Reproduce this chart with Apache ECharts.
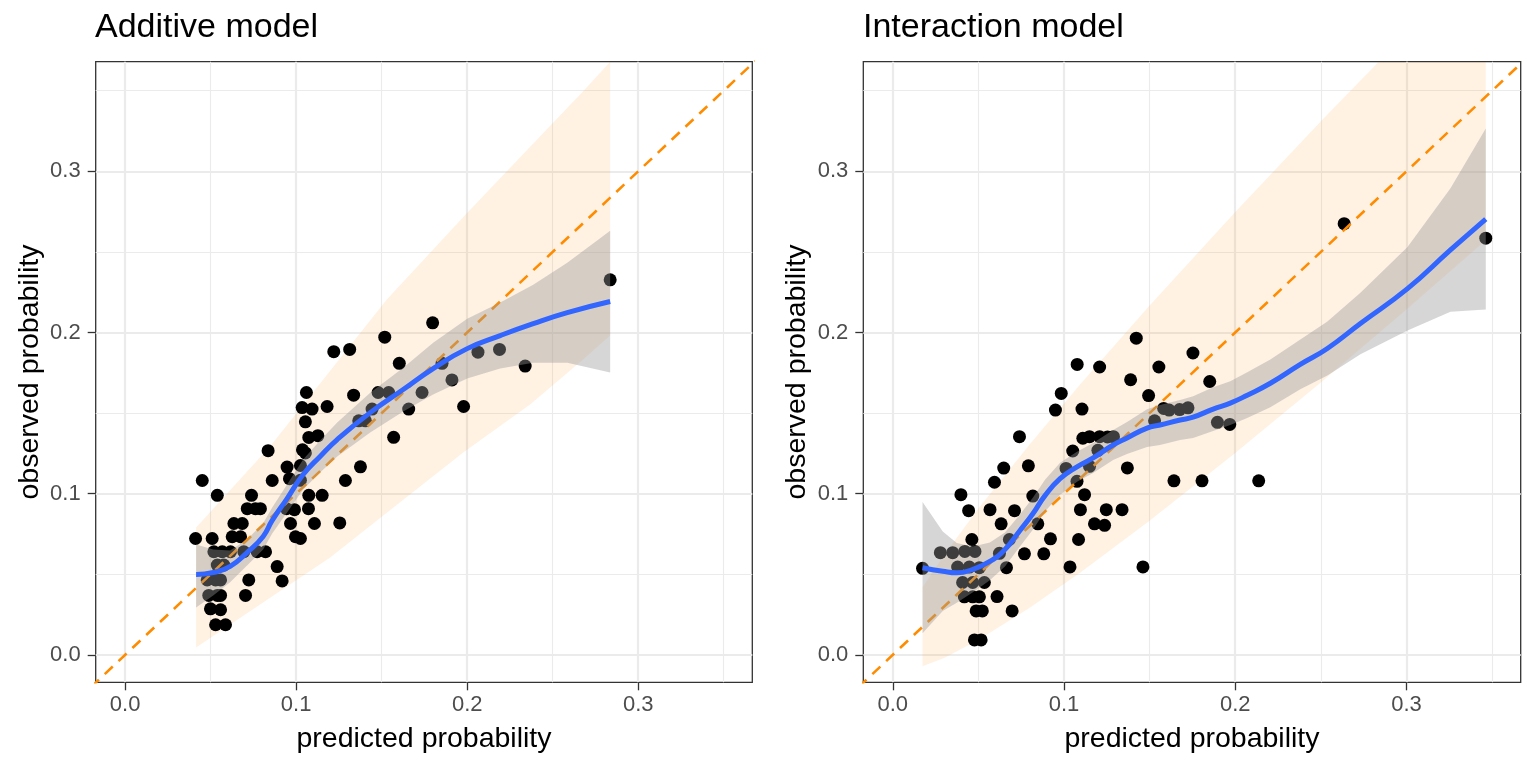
<!DOCTYPE html>
<html>
<head>
<meta charset="utf-8">
<title>Calibration plots</title>
<script src="https://cdn.jsdelivr.net/npm/echarts@6.0.0/dist/echarts.min.js"></script>
<style>
  html, body { margin: 0; padding: 0; background: #fff; }
  #main { width: 1536px; height: 768px; }
</style>
</head>
<body>
<div id="main"></div>
<script>
// axis settings (shared by both panels)
var xMin = -0.0172, xMax = 0.3667;
var yMin = -0.017, yMax = 0.368;
var majorTicks = [0, 0.1, 0.2, 0.3];
var minorTicks = [0.05, 0.15, 0.25, 0.35];
var diagEnds = [-0.02, 0.37];

// Additive model: points
var addPred = [0.0412,0.0509,0.0636,0.0685,0.0967,0.0626,0.0675,0.0996,0.1025,0.0519,0.0568,0.0616,0.0694,0.0772,0.0821,0.0539,0.0577,0.0889,0.0480,0.0529,0.0558,0.0723,0.0918,0.0489,0.0539,0.0558,0.0704,0.0499,0.0558,0.0529,0.0587,0.0451,0.0539,0.0739,0.0714,0.0762,0.0791,0.1107,0.1255,0.0836,0.0860,0.0961,0.1025,0.1288,0.1074,0.1152,0.0943,0.0990,0.1072,0.0947,0.1025,0.1376,0.1037,0.1054,0.1074,0.1127,0.1054,0.1035,0.1093,0.1181,0.1570,0.1060,0.1336,0.1479,0.1541,0.1736,0.1658,0.1979,0.1444,0.1366,0.1405,0.1603,0.1853,0.1911,0.1220,0.1313,0.1518,0.1798,0.2063,0.2189,0.2339,0.2836];
var addObs  = [0.0722,0.0722,0.0815,0.0815,0.0815,0.0733,0.0733,0.0733,0.0722,0.0640,0.0640,0.0640,0.0640,0.0640,0.0640,0.0557,0.0557,0.0548,0.0465,0.0465,0.0465,0.0465,0.0459,0.0369,0.0369,0.0369,0.0369,0.0286,0.0280,0.0187,0.0187,0.1082,0.0990,0.0990,0.0907,0.0907,0.0907,0.0815,0.0819,0.1267,0.1082,0.1093,0.1083,0.1082,0.0990,0.0990,0.0907,0.0901,0.0907,0.1165,0.1175,0.1167,0.1272,0.1253,0.1349,0.1360,0.1446,0.1534,0.1525,0.1541,0.1350,0.1628,0.1611,0.1628,0.1628,0.1628,0.1525,0.1541,0.1525,0.1452,0.1452,0.1809,0.1809,0.1706,0.1881,0.1895,0.1971,0.2060,0.1878,0.1895,0.1792,0.2327];

// Additive model: loess fit and its confidence band
var addFitX  = [0.0415,0.0515,0.0614,0.0713,0.0807,0.0860,0.0947,0.1041,0.1140,0.1240,0.1433,0.1626,0.1801,0.2000,0.2193,0.2386,0.2585,0.2836];
var addFitY  = [0.0499,0.0511,0.0549,0.0635,0.0735,0.0834,0.0970,0.1119,0.1231,0.1336,0.1503,0.1646,0.1776,0.1900,0.1981,0.2055,0.2123,0.2192];
var addFitLo = [0.0294,0.0368,0.0450,0.0554,0.0654,0.0753,0.0883,0.1026,0.1132,0.1231,0.1379,0.1510,0.1615,0.1714,0.1776,0.1813,0.1813,0.1752];
var addFitHi = [0.0685,0.0654,0.0648,0.0716,0.0816,0.0915,0.1057,0.1212,0.1330,0.1441,0.1627,0.1782,0.1937,0.2086,0.2186,0.2297,0.2433,0.2632];

// Additive model: expected range band around the diagonal
var addBandX  = [0.0415,0.0848,0.1199,0.1530,0.1977,0.2368,0.2678,0.2836];
var addBandLo = [0.0046,0.0354,0.0604,0.0882,0.1255,0.1553,0.1832,0.1981];
var addBandHi = [0.0790,0.1294,0.1762,0.2204,0.2717,0.3152,0.3496,0.3680];

// Interaction model: points
var intPred = [0.0174,0.0278,0.0350,0.0421,0.0480,0.0623,0.0769,0.0882,0.0379,0.0447,0.0506,0.0664,0.1035,0.1461,0.0408,0.0467,0.0535,0.0418,0.0467,0.0506,0.0609,0.0487,0.0523,0.0697,0.0477,0.0516,0.0462,0.0681,0.0921,0.1085,0.0633,0.0847,0.1178,0.1237,0.0443,0.0568,0.0711,0.1096,0.1247,0.1339,0.0398,0.0818,0.1120,0.0594,0.1076,0.1642,0.1806,0.2137,0.0648,0.0792,0.1012,0.1149,0.1370,0.1051,0.1198,0.0740,0.1110,0.1149,0.1208,0.1254,0.1289,0.0950,0.1105,0.1582,0.1614,0.1675,0.1724,0.1529,0.1896,0.1968,0.0984,0.1494,0.1389,0.1851,0.1077,0.1208,0.1554,0.1422,0.1753,0.2636,0.3463];
var intObs  = [0.0537,0.0634,0.0634,0.0642,0.0642,0.0630,0.0627,0.0627,0.0545,0.0545,0.0541,0.0541,0.0546,0.0546,0.0449,0.0449,0.0449,0.0360,0.0360,0.0360,0.0362,0.0273,0.0273,0.0273,0.0093,0.0093,0.0716,0.0716,0.0720,0.0716,0.0813,0.0813,0.0813,0.0804,0.0895,0.0901,0.0895,0.0901,0.0901,0.0901,0.0994,0.0985,0.0994,0.1071,0.1077,0.1080,0.1080,0.1080,0.1159,0.1173,0.1157,0.1170,0.1160,0.1265,0.1269,0.1354,0.1344,0.1354,0.1354,0.1352,0.1354,0.1519,0.1525,0.1529,0.1519,0.1522,0.1533,0.1452,0.1443,0.1430,0.1622,0.1609,0.1707,0.1696,0.1802,0.1786,0.1786,0.1965,0.1873,0.2675,0.2585];

// Interaction model: loess fit and its confidence band
var intFitX  = [0.0174,0.0292,0.0374,0.0468,0.0567,0.0655,0.0743,0.0819,0.0889,0.0977,0.1076,0.1170,0.1287,0.1368,0.1485,0.1561,0.1678,0.1754,0.1871,0.1971,0.2070,0.2205,0.2380,0.2538,0.2731,0.3006,0.3257,0.3463];
var intFitY  = [0.0541,0.0519,0.0509,0.0531,0.0580,0.0654,0.0772,0.0877,0.0988,0.1093,0.1167,0.1222,0.1302,0.1346,0.1407,0.1426,0.1457,0.1475,0.1525,0.1562,0.1611,0.1685,0.1802,0.1901,0.2056,0.2272,0.2512,0.2704];
var intFitLo = [0.0134,0.0272,0.0324,0.0389,0.0463,0.0549,0.0673,0.0778,0.0889,0.0994,0.1074,0.1129,0.1209,0.1247,0.1290,0.1302,0.1333,0.1345,0.1389,0.1426,0.1469,0.1537,0.1648,0.1734,0.1865,0.2013,0.2129,0.2142];
var intFitHi = [0.0948,0.0766,0.0694,0.0673,0.0697,0.0759,0.0871,0.0976,0.1087,0.1192,0.1260,0.1315,0.1395,0.1445,0.1524,0.1550,0.1581,0.1605,0.1661,0.1698,0.1753,0.1833,0.1956,0.2068,0.2247,0.2531,0.2895,0.3266];

// Interaction model: expected range band around the diagonal
var intBandX  = [0.0174,0.03,0.05,0.08,0.11,0.15,0.20,0.25,0.30,0.3463];
var intBandLo = [-0.0071,-0.0019,0.0092,0.0293,0.0515,0.0832,0.1252,0.1690,0.2143,0.2573];
var intBandHi = [0.0419,0.0619,0.0908,0.1307,0.1685,0.2168,0.2748,0.3310,0.3857,0.4353];

var font = 'Liberation Sans, Arial, Helvetica, sans-serif';

var myChart = echarts.init(document.getElementById('main'));

function pairs(xs, ys) {
    return xs.map(function (x, i) { return [x, ys[i]]; });
}

function xAxes(gi) {
    return [
        {
            type: 'value', gridIndex: gi, min: xMin, max: xMax, position: 'bottom',
            axisLine: { show: false, onZero: false },
            axisTick: { show: true, length: 8, customValues: majorTicks, lineStyle: { color: '#333', width: 1.3 } },
            axisLabel: { customValues: majorTicks, margin: 12, color: '#4d4d4d', fontSize: 22, fontFamily: font,
                formatter: function (v) { return v.toFixed(1); } },
            splitLine: { show: true, lineStyle: { color: '#ebebeb', width: 2.2 } }
        },
        {
            type: 'value', gridIndex: gi, min: xMin, max: xMax, position: 'top',
            axisLine: { show: false, onZero: false },
            axisTick: { show: false, customValues: minorTicks },
            axisLabel: { show: false, customValues: minorTicks },
            splitLine: { show: true, lineStyle: { color: '#ebebeb', width: 1.1 } }
        }
    ];
}

function yAxes(gi) {
    return [
        {
            type: 'value', gridIndex: gi, min: yMin, max: yMax, position: 'left',
            axisLine: { show: false, onZero: false },
            axisTick: { show: true, length: 8, customValues: majorTicks, lineStyle: { color: '#333', width: 1.3 } },
            axisLabel: { customValues: majorTicks, margin: 15, color: '#4d4d4d', fontSize: 22, fontFamily: font,
                formatter: function (v) { return v.toFixed(1); } },
            splitLine: { show: true, lineStyle: { color: '#ebebeb', width: 2.2 } }
        },
        {
            type: 'value', gridIndex: gi, min: yMin, max: yMax, position: 'right',
            axisLine: { show: false, onZero: false },
            axisTick: { show: false, customValues: minorTicks },
            axisLabel: { show: false, customValues: minorTicks },
            splitLine: { show: true, lineStyle: { color: '#ebebeb', width: 1.1 } }
        }
    ];
}

// filled ribbon between lo and hi, clipped to the panel
function ribbon(gi, xs, lo, hi, fill, z) {
    return {
        type: 'custom', xAxisIndex: gi * 2, yAxisIndex: gi * 2, data: [[0, 0]],
        silent: true, clip: true, z: z,
        renderItem: function (params, api) {
            var pts = [];
            for (var i = 0; i < xs.length; i++) pts.push(api.coord([xs[i], hi[i]]));
            for (var j = xs.length - 1; j >= 0; j--) pts.push(api.coord([xs[j], lo[j]]));
            var cs = params.coordSys;
            return {
                type: 'group',
                clipPath: { type: 'rect', shape: { x: cs.x, y: cs.y, width: cs.width, height: cs.height } },
                children: [{ type: 'polygon', shape: { points: pts }, style: { fill: fill } }]
            };
        }
    };
}

function panelSeries(gi, pred, obs, fitX, fitY, fitLo, fitHi, bandX, bandLo, bandHi) {
    return [
        ribbon(gi, bandX, bandLo, bandHi, 'rgba(255,140,0,0.11)', 2),
        {
            type: 'scatter', xAxisIndex: gi * 2, yAxisIndex: gi * 2, z: 3, silent: true,
            symbolSize: 13, itemStyle: { color: '#000', opacity: 1 },
            data: pairs(pred, obs)
        },
        {
            type: 'line', xAxisIndex: gi * 2, yAxisIndex: gi * 2, z: 4, silent: true, clip: true,
            symbol: 'none',
            lineStyle: { color: '#ff8c00', width: 2.6, type: [11, 8] },
            data: pairs(diagEnds, diagEnds)
        },
        ribbon(gi, fitX, fitLo, fitHi, 'rgba(153,153,153,0.4)', 5),
        {
            type: 'line', xAxisIndex: gi * 2, yAxisIndex: gi * 2, z: 6, silent: true,
            symbol: 'none', smooth: 0.5,
            lineStyle: { color: '#3366ff', width: 5 },
            data: pairs(fitX, fitY)
        }
    ];
}

var option = {
    animation: false,
    backgroundColor: '#fff',
    grid: [
        { left: 95.7, top: 61.7, width: 656.6, height: 620.6, show: true, borderColor: '#333', borderWidth: 1.3 },
        { left: 863.3, top: 61.7, width: 657.4, height: 620.6, show: true, borderColor: '#333', borderWidth: 1.3 }
    ],
    xAxis: xAxes(0).concat(xAxes(1)),
    yAxis: yAxes(0).concat(yAxes(1)),
    series: panelSeries(0, addPred, addObs, addFitX, addFitY, addFitLo, addFitHi, addBandX, addBandLo, addBandHi)
        .concat(panelSeries(1, intPred, intObs, intFitX, intFitY, intFitLo, intFitHi, intBandX, intBandLo, intBandHi)),
    graphic: [
        { type: 'text', x: 95, y: 28, style: { text: 'Additive model', fill: '#000', font: '34px ' + font, textAlign: 'left', textVerticalAlign: 'middle', align: 'left', verticalAlign: 'middle' } },
        { type: 'text', x: 863, y: 28, style: { text: 'Interaction model', fill: '#000', font: '34px ' + font, textAlign: 'left', textVerticalAlign: 'middle', align: 'left', verticalAlign: 'middle' } },
        { type: 'text', x: 424, y: 739, style: { text: 'predicted probability', fill: '#000', font: '28.5px ' + font, textAlign: 'center', textVerticalAlign: 'middle', align: 'center', verticalAlign: 'middle' } },
        { type: 'text', x: 1192, y: 739, style: { text: 'predicted probability', fill: '#000', font: '28.5px ' + font, textAlign: 'center', textVerticalAlign: 'middle', align: 'center', verticalAlign: 'middle' } },
        { type: 'text', x: 30, y: 372, rotation: Math.PI / 2, style: { text: 'observed probability', fill: '#000', font: '28.5px ' + font, textAlign: 'center', textVerticalAlign: 'middle', align: 'center', verticalAlign: 'middle' } },
        { type: 'text', x: 797, y: 372, rotation: Math.PI / 2, style: { text: 'observed probability', fill: '#000', font: '28.5px ' + font, textAlign: 'center', textVerticalAlign: 'middle', align: 'center', verticalAlign: 'middle' } }
    ]
};

myChart.setOption(option);
</script>
</body>
</html>
